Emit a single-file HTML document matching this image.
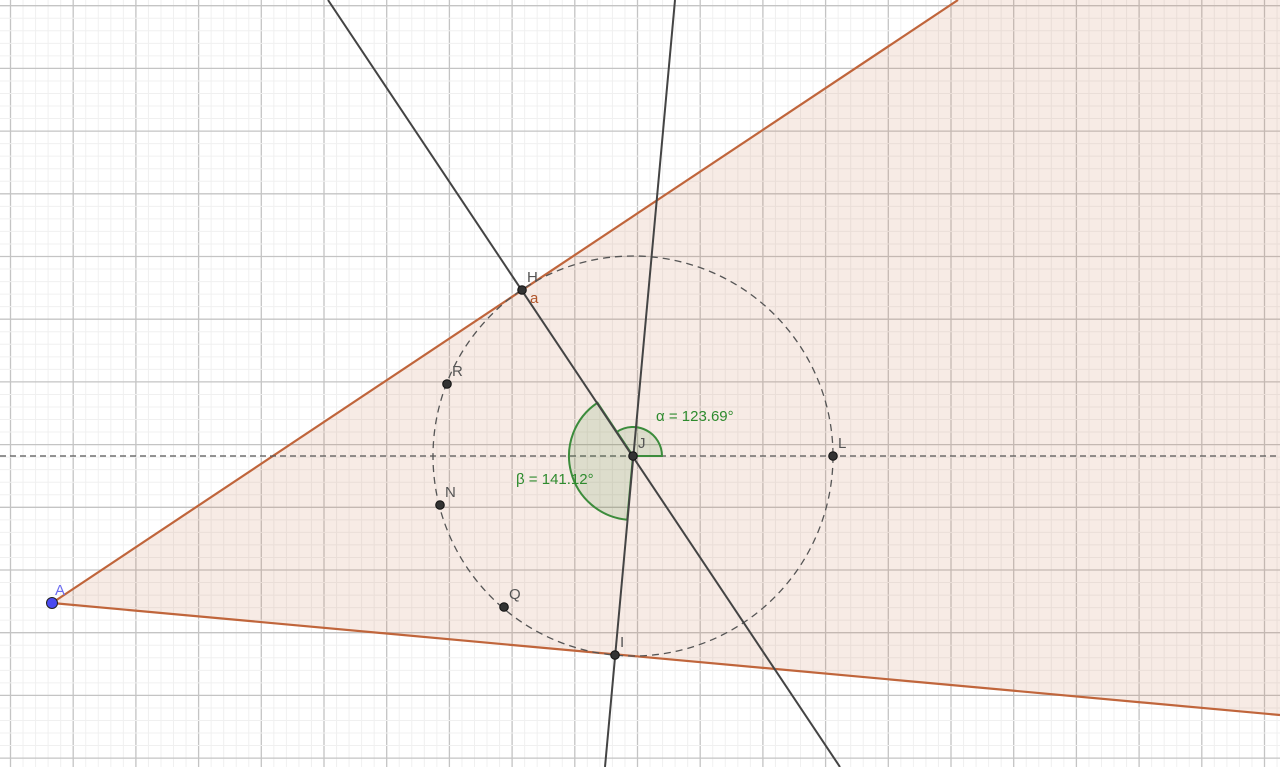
<!DOCTYPE html>
<html><head><meta charset="utf-8"><style>
html,body{margin:0;padding:0;background:#fff;overflow:hidden;width:1280px;height:767px}
svg{display:block;position:absolute;left:0;top:0}
text{font-family:"Liberation Sans",sans-serif}
</style></head><body>
<svg id="c" width="1280" height="767">
<g id="grid"></g>
<polygon points="52,603 958,0 1280,0 1280,715" fill="#c8784f" fill-opacity="0.15"/>
<g id="shapes"></g>
</svg>
<script>
const points = [["H",522,290],["R",447,384],["N",440,505],["Q",504,607],["I",615,655],["J",633,456],["L",833,456]];
const alphaDeg = [0,123.69];
const betaDeg = [123.69,264.8];
const NS="http://www.w3.org/2000/svg";
function mk(tag,attrs,parent){const e=document.createElementNS(NS,tag);for(const k in attrs)e.setAttribute(k,attrs[k]);parent.appendChild(e);return e;}
const g=document.getElementById('grid'), s=document.getElementById('shapes');
const step=62.7/5, x0=10.5, y0=5.7;
for(let i=-1;i<110;i++){
  const x=x0+i*step, maj=(i%5===0);
  const l=mk('line',{x1:x,y1:0,x2:x,y2:767,stroke:maj?'#c4c4c4':'#f0f0f0','stroke-width':maj?1.3:1},g);
  
  
}
for(let i=-1;i<65;i++){
  const y=y0+i*step, maj=(i%5===0);
  const l=mk('line',{x1:0,y1:y,x2:1280,y2:y,stroke:maj?'#c4c4c4':'#f0f0f0','stroke-width':maj?1.3:1},g);
  
  
}
let e;
e=mk('line',{x1:52,y1:603,x2:958,y2:0,stroke:'#c0653b','stroke-width':2.2},s);

e=mk('line',{x1:52,y1:603,x2:1280,y2:715,stroke:'#c0653b','stroke-width':2.2},s);

e=mk('line',{x1:0,y1:456,x2:1280,y2:456,stroke:'#555','stroke-width':1.2,'stroke-dasharray':'6,4'},s);

e=mk('circle',{cx:633,cy:456,r:200,fill:'none',stroke:'#555','stroke-width':1.3,'stroke-dasharray':'7,5'},s);

const cx=633,cy=456;
function sector(a0,a1,r,name){
  const p=(a)=>[cx+r*Math.cos(a*Math.PI/180),cy-r*Math.sin(a*Math.PI/180)];
  const [x1,y1]=p(a0),[x2,y2]=p(a1);const large=(a1-a0)>180?1:0;
  const el=mk('path',{d:`M${cx},${cy} L${x1},${y1} A${r},${r} 0 ${large} 0 ${x2},${y2} Z`,fill:'#4a8a3a','fill-opacity':0.15,stroke:'#3c8c3c','stroke-width':2},s);
  
}
sector(betaDeg[0],betaDeg[1],64,'angle-beta');
sector(alphaDeg[0],alphaDeg[1],29,'angle-alpha');
e=mk('line',{x1:328,y1:0,x2:840,y2:767,stroke:'#444','stroke-width':2},s);

e=mk('line',{x1:675,y1:0,x2:605,y2:767,stroke:'#444','stroke-width':2},s);

points.forEach(p=>{
  const c=mk('circle',{cx:p[1],cy:p[2],r:4.3,fill:'#333',stroke:'#111','stroke-width':1},s);
  
  
  const t=mk('text',{x:p[1]+5,y:p[2]-8,'font-size':15,fill:'#555'},s);t.textContent=p[0];
  
  
});
e=mk('circle',{cx:52,cy:603,r:5.5,fill:'#4a4af0',stroke:'#222','stroke-width':1},s);

e=mk('text',{x:55,y:595,'font-size':15,fill:'#6b6bf0'},s);e.textContent='A';

e=mk('text',{x:530,y:303,'font-size':15,fill:'#b0552a'},s);e.textContent='a';

e=mk('text',{x:656,y:421,'font-size':15,fill:'#2e8b2e'},s);e.textContent='α = 123.69°';

e=mk('text',{x:516,y:484,'font-size':15,fill:'#2e8b2e'},s);e.textContent='β = 141.12°';

</script>
</body></html>
